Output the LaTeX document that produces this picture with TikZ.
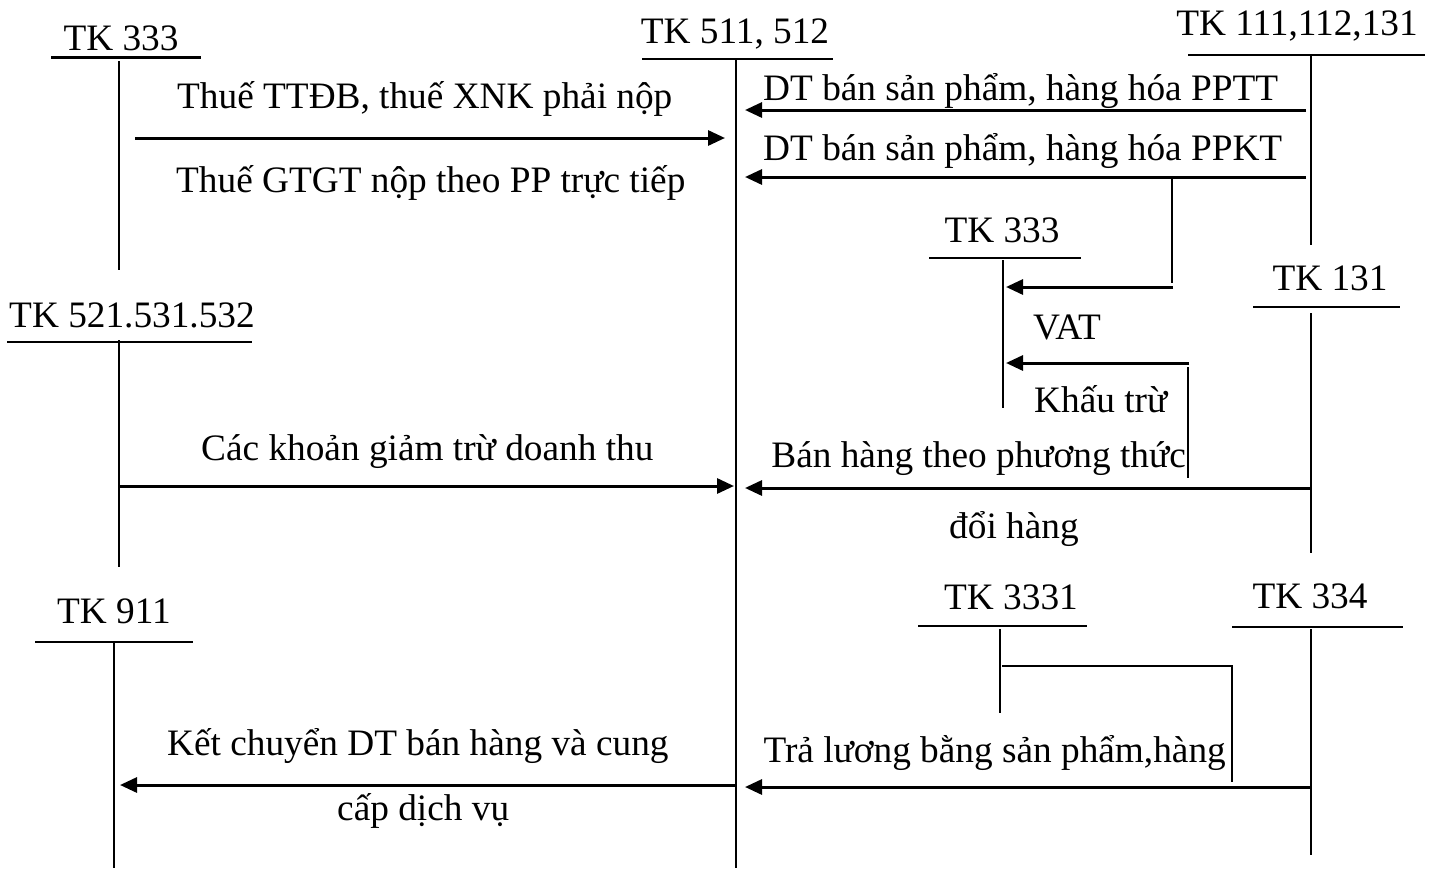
\documentclass[tikz,border=0pt]{standalone}
\usepackage{fontspec}
\setmainfont{Liberation Serif}
\usetikzlibrary{arrows.meta}
\begin{document}
\begin{tikzpicture}[x=1pt,y=-1pt,
  txt/.style={inner sep=0pt,font=\fontsize{37.3}{40}\selectfont},
  lbl/.style={txt,anchor=base west},
  acct/.style={txt,anchor=base},
  tline/.style={line width=2.4pt},
  flow/.style={line width=3pt,-{Triangle[length=17pt,width=15pt]}},
  plain/.style={line width=2.5pt}]
\useasboundingbox (0,0) rectangle (1435,868);

% ---- T-accounts: title, bar, stem ----
\node[acct] (t333) at (121,50) {TK 333};
\coordinate (t333l) at (51,57.5);  \coordinate (t333r) at (201,57.5);
\coordinate (t333a) at (119,61);   \coordinate (t333b) at (119,270);

\node[acct] (t511) at (735,43) {TK 511, 512};
\coordinate (t511l) at (642,59);   \coordinate (t511r) at (833,59);
\coordinate (t511a) at (736,60);   \coordinate (t511b) at (736,868);

\node[acct] (t111) at (1297,35) {TK 111,112,131};
\coordinate (t111l) at (1188,55);  \coordinate (t111r) at (1425,55);
\coordinate (t111a) at (1311,56);  \coordinate (t111b) at (1311,245);

\node[acct] (v333) at (1002,242) {TK 333};
\coordinate (v333l) at (929,258);  \coordinate (v333r) at (1081,258);
\coordinate (v333a) at (1003,260); \coordinate (v333b) at (1003,408);

\node[acct] (t131) at (1330,290) {TK 131};
\coordinate (t131l) at (1253,307); \coordinate (t131r) at (1400,307);
\coordinate (t131a) at (1311,313); \coordinate (t131b) at (1311,553);

\node[acct] (t521) at (132,327) {TK 521.531.532};
\coordinate (t521l) at (7,342);    \coordinate (t521r) at (252,342);
\coordinate (t521a) at (119,340);  \coordinate (t521b) at (119,567);

\node[acct] (t911) at (114,623) {TK 911};
\coordinate (t911l) at (35,642);   \coordinate (t911r) at (193,642);
\coordinate (t911a) at (114,642);  \coordinate (t911b) at (114,868);

\node[acct] (t3331) at (1011,609) {TK 3331};
\coordinate (t3331l) at (918,626); \coordinate (t3331r) at (1087,626);
\coordinate (t3331a) at (1000,629);\coordinate (t3331b) at (1000,713);

\node[acct] (t334) at (1310,608) {TK 334};
\coordinate (t334l) at (1232,627); \coordinate (t334r) at (1403,627);
\coordinate (t334a) at (1311,629); \coordinate (t334b) at (1311,855);

\foreach \n in {t333,t511,t111,v333,t131,t521,t911,t3331,t334}{
  \draw[tline] (\n l) -- (\n r);
  \draw[tline] (\n a) -- (\n b);
}

% ---- flow arrows ----
\coordinate (f1s) at (135,138);  \coordinate (f1e) at (725,138);
\draw[flow] (f1s) -- (f1e);
\node[lbl] (l1a) at (177,108) {Thuế TTĐB, thuế XNK phải nộp};
\node[lbl] (l1b) at (176,192) {Thuế GTGT nộp theo PP trực tiếp};

\coordinate (f2s) at (1306,110); \coordinate (f2e) at (745,110);
\draw[flow] (f2s) -- (f2e);
\node[lbl] (l2) at (763,100) {DT bán sản phẩm, hàng hóa PPTT};

\coordinate (f3s) at (1306,177); \coordinate (f3e) at (745,177);
\draw[flow] (f3s) -- (f3e);
\node[lbl] (l3) at (763,160) {DT bán sản phẩm, hàng hóa PPKT};

% VAT branch from the PPKT line
\coordinate (b1a) at (1172,177); \coordinate (b1b) at (1172,283);
\draw[plain] (b1a) -- (b1b);
\coordinate (f4s) at (1173,287); \coordinate (f4e) at (1006,287);
\draw[flow] (f4s) -- (f4e);
\node[lbl] (l4) at (1033,339) {VAT};

\coordinate (f5s) at (1189,363); \coordinate (f5e) at (1006,363);
\draw[flow] (f5s) -- (f5e);
\coordinate (b2a) at (1188,367); \coordinate (b2b) at (1188,478);
\draw[plain] (b2a) -- (b2b);
\node[lbl] (l5) at (1034,412) {Khấu trừ};

\coordinate (f6s) at (1311,488); \coordinate (f6e) at (745,488);
\draw[flow] (f6s) -- (f6e);
\node[txt,anchor=base east] (l6a) at (1186,467) {Bán hàng theo phương thức};
\node[lbl] (l6b) at (949,538) {đổi hàng};

\coordinate (f7s) at (119,486); \coordinate (f7e) at (734,486);
\draw[flow] (f7s) -- (f7e);
\node[lbl] (l7) at (201,460) {Các khoản giảm trừ doanh thu};

\coordinate (f8s) at (736,785); \coordinate (f8e) at (120,785);
\draw[flow] (f8s) -- (f8e);
\node[lbl] (l8a) at (167,755) {Kết chuyển DT bán hàng và cung};
\node[lbl] (l8b) at (337,820) {cấp dịch vụ};

\coordinate (f9s) at (1311,787); \coordinate (f9e) at (745,787);
\draw[flow] (f9s) -- (f9e);
\node[txt,anchor=base east] (l9) at (1226,762) {Trả lương bằng sản phẩm,hàng};

% output VAT link to TK 3331
\coordinate (c1) at (1002,666); \coordinate (c2) at (1232,666); \coordinate (c3) at (1232,782);
\draw[plain] (c1) -- (c2) -- (c3);
\end{tikzpicture}
\end{document}
